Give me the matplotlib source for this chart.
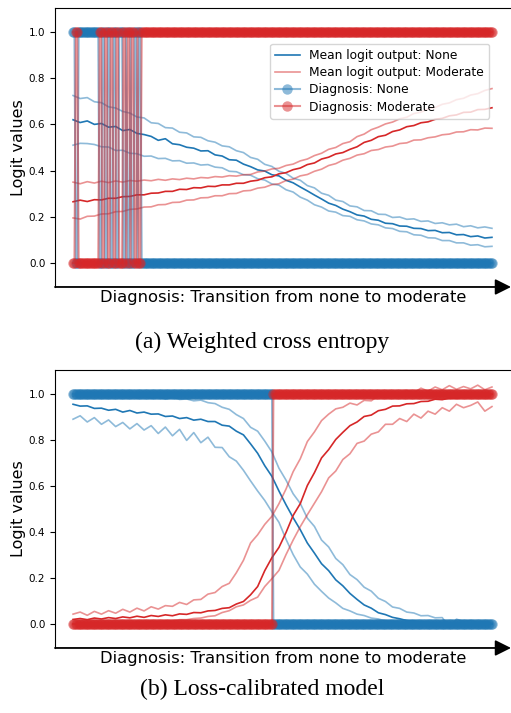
import numpy as np
import matplotlib
matplotlib.use("Agg")
import matplotlib.pyplot as plt

# samples along the "none -> moderate" transition axis
n_samples = 300

# (a) weighted cross entropy: mean logit output and +/- spread lines
a_none_mean = [0.620, 0.608, 0.615, 0.600, 0.604, 0.588, 0.591, 0.573, 0.578, 0.561, 0.556, 0.548, 0.531, 0.538, 0.516,
               0.512, 0.501, 0.497, 0.485, 0.486, 0.468, 0.463, 0.447, 0.445, 0.428, 0.417, 0.403, 0.398, 0.382, 0.377,
               0.358, 0.347, 0.329, 0.312, 0.294, 0.277, 0.259, 0.249, 0.233, 0.222, 0.208, 0.203, 0.189, 0.185, 0.172,
               0.170, 0.160, 0.159, 0.150, 0.149, 0.140, 0.141, 0.131, 0.132, 0.122, 0.123, 0.114, 0.117, 0.108, 0.111]
a_none_hi = [0.725, 0.712, 0.716, 0.698, 0.694, 0.676, 0.671, 0.656, 0.649, 0.632, 0.628, 0.607, 0.604, 0.586, 0.584,
             0.566, 0.563, 0.546, 0.544, 0.529, 0.523, 0.507, 0.503, 0.486, 0.478, 0.457, 0.449, 0.427, 0.418, 0.397,
             0.388, 0.367, 0.358, 0.335, 0.325, 0.302, 0.293, 0.272, 0.266, 0.247, 0.243, 0.227, 0.226, 0.211, 0.210,
             0.197, 0.199, 0.189, 0.191, 0.180, 0.182, 0.171, 0.174, 0.165, 0.168, 0.157, 0.161, 0.152, 0.156, 0.150]
a_none_lo = [0.510, 0.518, 0.517, 0.513, 0.503, 0.502, 0.487, 0.488, 0.475, 0.473, 0.462, 0.463, 0.452, 0.453, 0.442,
             0.443, 0.432, 0.433, 0.424, 0.426, 0.415, 0.412, 0.397, 0.395, 0.382, 0.380, 0.365, 0.359, 0.342, 0.337,
             0.317, 0.307, 0.285, 0.272, 0.252, 0.242, 0.225, 0.220, 0.205, 0.202, 0.187, 0.182, 0.169, 0.165, 0.152,
             0.149, 0.137, 0.135, 0.122, 0.120, 0.109, 0.108, 0.097, 0.097, 0.087, 0.087, 0.077, 0.079, 0.070, 0.072]
a_mod_mean = [0.265, 0.272, 0.266, 0.274, 0.273, 0.280, 0.280, 0.287, 0.288, 0.295, 0.295, 0.302, 0.303, 0.310, 0.310,
              0.319, 0.318, 0.326, 0.325, 0.332, 0.331, 0.338, 0.338, 0.345, 0.345, 0.354, 0.358, 0.369, 0.373, 0.386,
              0.391, 0.404, 0.411, 0.426, 0.433, 0.450, 0.458, 0.472, 0.478, 0.492, 0.503, 0.522, 0.531, 0.547, 0.553,
              0.569, 0.576, 0.590, 0.595, 0.607, 0.611, 0.622, 0.626, 0.637, 0.641, 0.652, 0.653, 0.664, 0.665, 0.672]
a_mod_hi = [0.350, 0.343, 0.352, 0.346, 0.354, 0.348, 0.355, 0.350, 0.357, 0.354, 0.359, 0.356, 0.362, 0.358, 0.364,
            0.361, 0.367, 0.364, 0.370, 0.368, 0.374, 0.372, 0.378, 0.376, 0.382, 0.383, 0.394, 0.398, 0.407, 0.410,
            0.422, 0.428, 0.442, 0.450, 0.465, 0.475, 0.492, 0.500, 0.517, 0.525, 0.547, 0.558, 0.577, 0.588, 0.602,
            0.610, 0.624, 0.631, 0.647, 0.653, 0.667, 0.673, 0.687, 0.693, 0.707, 0.713, 0.727, 0.733, 0.747, 0.755]
a_mod_lo = [0.195, 0.190, 0.202, 0.203, 0.212, 0.213, 0.222, 0.223, 0.232, 0.234, 0.242, 0.243, 0.252, 0.253, 0.262,
            0.263, 0.272, 0.273, 0.282, 0.283, 0.291, 0.291, 0.300, 0.301, 0.312, 0.314, 0.324, 0.328, 0.339, 0.343,
            0.357, 0.363, 0.377, 0.383, 0.397, 0.406, 0.422, 0.430, 0.445, 0.453, 0.467, 0.473, 0.487, 0.491, 0.502,
            0.506, 0.517, 0.520, 0.532, 0.533, 0.542, 0.546, 0.555, 0.558, 0.567, 0.568, 0.577, 0.576, 0.584, 0.583]
# sample indices where the true diagnosis flips (starts at "none")
a_switch_idx = [2, 4, 19, 21, 23, 25, 27, 29, 31, 33, 36, 38, 39, 41, 42, 44, 46, 47, 49]

# (b) loss-calibrated model
b_none_mean = [0.955, 0.947, 0.948, 0.937, 0.938, 0.929, 0.933, 0.921, 0.928, 0.917, 0.921, 0.912, 0.913, 0.902, 0.904,
               0.893, 0.897, 0.886, 0.890, 0.880, 0.880, 0.864, 0.860, 0.838, 0.822, 0.783, 0.742, 0.688, 0.642, 0.578,
               0.518, 0.462, 0.410, 0.352, 0.308, 0.262, 0.232, 0.192, 0.166, 0.133, 0.107, 0.083, 0.069, 0.049, 0.041,
               0.029, 0.023, 0.015, 0.013, 0.008, 0.007, 0.003, 0.004, 0.001, 0.002, 0.000, 0.001, 0.000, 0.001, 0.000]
b_none_hi = [0.990, 1.000, 0.992, 1.002, 0.994, 0.990, 0.997, 0.988, 0.993, 0.983, 0.991, 0.982, 0.987, 0.977, 0.986,
             0.976, 0.978, 0.970, 0.973, 0.962, 0.958, 0.942, 0.933, 0.910, 0.893, 0.855, 0.838, 0.795, 0.748, 0.677,
             0.625, 0.566, 0.524, 0.460, 0.424, 0.365, 0.335, 0.285, 0.258, 0.215, 0.193, 0.160, 0.143, 0.112, 0.098,
             0.074, 0.068, 0.052, 0.048, 0.036, 0.037, 0.027, 0.028, -0.015, 0.021, 0.012, 0.015, 0.007, 0.010, 0.006]
b_none_lo = [0.890, 0.905, 0.878, 0.897, 0.868, 0.887, 0.858, 0.876, 0.848, 0.871, 0.843, 0.862, 0.828, 0.856, 0.818,
             0.846, 0.798, 0.832, 0.788, 0.812, 0.768, 0.767, 0.727, 0.708, 0.668, 0.622, 0.578, 0.537, 0.488, 0.442,
             0.368, 0.302, 0.248, 0.217, 0.173, 0.142, 0.113, 0.092, 0.068, 0.057, 0.043, 0.037, 0.026, 0.022, 0.013,
             0.012, 0.006, 0.008, 0.002, 0.004, 0.001, 0.003, 0.000, 0.002, 0.000, 0.001, 0.000, 0.001, 0.000, 0.000]
b_mod_mean = [0.020, 0.024, 0.019, 0.026, 0.022, 0.028, 0.024, 0.031, 0.027, 0.034, 0.029, 0.037, 0.033, 0.040, 0.036,
              0.044, 0.042, 0.050, 0.049, 0.057, 0.059, 0.068, 0.071, 0.087, 0.098, 0.127, 0.163, 0.232, 0.288, 0.333,
              0.398, 0.472, 0.523, 0.602, 0.658, 0.722, 0.758, 0.802, 0.833, 0.862, 0.878, 0.902, 0.908, 0.927, 0.933,
              0.947, 0.948, 0.957, 0.958, 0.967, 0.968, 0.977, 0.975, 0.982, 0.981, 0.988, 0.988, 0.995, 0.994, 0.998]
b_mod_hi = [0.043, 0.052, 0.038, 0.055, 0.043, 0.058, 0.047, 0.064, 0.052, 0.069, 0.057, 0.075, 0.065, 0.080, 0.077,
            0.094, 0.085, 0.105, 0.107, 0.130, 0.137, 0.163, 0.177, 0.223, 0.277, 0.352, 0.388, 0.433, 0.468, 0.523,
            0.587, 0.662, 0.718, 0.793, 0.835, 0.884, 0.912, 0.935, 0.942, 0.960, 0.952, 0.972, 0.970, 0.992, 0.985,
            1.008, 0.998, 1.015, 1.005, 1.025, 1.012, 1.030, 1.018, 1.036, 1.020, 1.032, 1.022, 1.038, 1.018, 1.030]
b_mod_lo = [0.000, 0.004, -0.002, 0.005, 0.001, 0.006, 0.002, 0.008, 0.003, 0.010, 0.005, 0.012, 0.008, 0.014, 0.012,
            0.019, 0.019, 0.024, 0.026, 0.033, 0.036, 0.050, 0.058, 0.075, 0.083, 0.103, 0.117, 0.163, 0.197, 0.233,
            0.302, 0.365, 0.423, 0.475, 0.525, 0.575, 0.635, 0.665, 0.715, 0.740, 0.785, 0.795, 0.825, 0.835, 0.868,
            0.868, 0.893, 0.880, 0.912, 0.895, 0.925, 0.912, 0.940, 0.925, 0.955, 0.940, 0.950, 0.965, 0.925, 0.945]
b_switch_idx = [143]

yticks = [0.0, 0.2, 0.4, 0.6, 0.8, 1.0]
legend_labels = ["Mean logit output: None", "Mean logit output: Moderate",
                 "Diagnosis: None", "Diagnosis: Moderate"]
captions = ["(a) Weighted cross entropy", "(b) Loss-calibrated model"]

BLUE = "#1f77b4"
RED = "#d62728"


def moderate_indicator(switch_idx):
    idx = np.arange(n_samples)
    flips = np.searchsorted(np.array(switch_idx), idx, side="right")
    return (flips % 2).astype(float)


def draw_panel(ax, none_curves, mod_curves, switch_idx, show_legend):
    handles = {}
    for vals, lab in zip(none_curves, ["mean", "hi", "lo"]):
        x = np.linspace(0, n_samples - 1, len(vals))
        if lab == "mean":
            handles["none_mean"], = ax.plot(x, vals, color=BLUE, lw=1.2)
        else:
            ax.plot(x, vals, color=BLUE, lw=1.2, alpha=0.5)
    for vals, lab in zip(mod_curves, ["mean", "hi", "lo"]):
        x = np.linspace(0, n_samples - 1, len(vals))
        if lab == "mean":
            ax.plot(x, vals, color=RED, lw=1.2)
        else:
            h, = ax.plot(x, vals, color=RED, lw=1.2, alpha=0.5)
            handles["mod_band"] = h

    mod = moderate_indicator(switch_idx)
    xs = np.arange(n_samples)
    handles["diag_none"], = ax.plot(xs, 1 - mod, "o-", color=BLUE, alpha=0.5, ms=7.5, lw=1.5, mew=0)
    handles["diag_mod"], = ax.plot(xs, mod, "o-", color=RED, alpha=0.5, ms=7.5, lw=1.5, mew=0)

    ax.set_xlim(-12.9, 312.6)
    ax.set_ylim(-0.104, 1.104)
    ax.set_xticks([])
    ax.set_yticks(yticks)
    ax.set_yticklabels([f"{t:.1f}" for t in yticks])
    ax.tick_params(axis="y", labelsize=7.5, length=3.5)
    ax.set_ylabel("Logit values", fontsize=11.5, labelpad=2)
    ax.set_xlabel("Diagnosis: Transition from none to moderate", fontsize=11.8, labelpad=2)
    ax.spines["right"].set_visible(False)
    ax.spines["bottom"].set_visible(False)
    ax.annotate("", xy=(1.0, 0.0), xycoords="axes fraction", xytext=(0.0, 0.0),
                arrowprops=dict(arrowstyle="-|>", color="black", lw=1.3,
                                mutation_scale=24, shrinkA=0, shrinkB=0))

    if show_legend:
        ax.legend([handles["none_mean"], handles["mod_band"], handles["diag_none"], handles["diag_mod"]],
                  legend_labels, loc="upper right", bbox_to_anchor=(0.952, 0.871),
                  borderaxespad=0, fontsize=8.8, labelspacing=0.35)


fig = plt.figure(figsize=(5.11, 7.13), dpi=100)
ax_a = fig.add_axes([0.1076, 0.5975, 0.8924, 0.3913])
ax_b = fig.add_axes([0.1076, 0.0912, 0.8924, 0.3899])

draw_panel(ax_a, [a_none_mean, a_none_hi, a_none_lo], [a_mod_mean, a_mod_hi, a_mod_lo], a_switch_idx, True)
draw_panel(ax_b, [b_none_mean, b_none_hi, b_none_lo], [b_mod_mean, b_mod_hi, b_mod_lo], b_switch_idx, False)

fig.text(0.513, 1 - 342 / 713, captions[0], ha="center", va="center",
         fontsize=17, family="Liberation Serif")
fig.text(0.513, 1 - 689 / 713, captions[1], ha="center", va="center",
         fontsize=17, family="Liberation Serif")

fig.savefig("out.png", dpi=100)
plt.close(fig)
